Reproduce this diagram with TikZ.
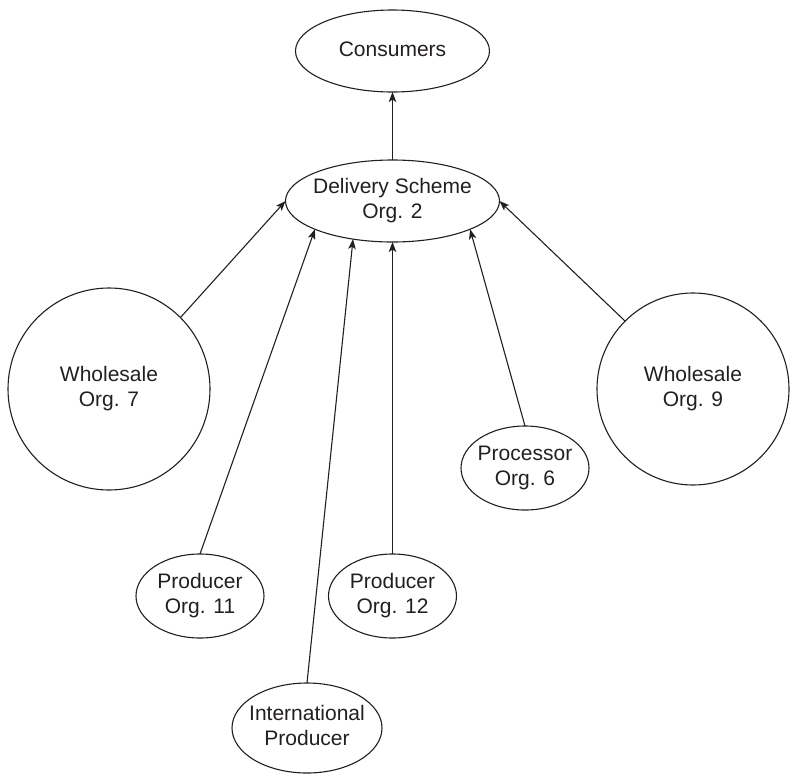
\documentclass[tikz,border=0pt]{standalone}
\usepackage{fontspec}
\setmainfont{Liberation Sans}
\usetikzlibrary{shapes.geometric,arrows.meta}

\definecolor{ink}{RGB}{35,31,32}

% centred multi-line label that does not widen its node
\newcommand{\orglabel}[1]{\makebox[0pt]{\begin{tabular}{@{}c@{}}#1\end{tabular}}}

\begin{document}
\begin{tikzpicture}[
  x=1pt, y=-1pt,
  every node/.style={font=\fontsize{21}{25}\selectfont, text=ink},
  org/.style={draw=ink, line width=1.1pt, ellipse, inner sep=0pt, outer sep=0pt},
  bigorg/.style={draw=ink, line width=1.1pt, circle, inner sep=0pt, outer sep=0pt},
  flow/.style={draw=ink, line width=1.1pt, -{Stealth[length=10pt, width=7.5pt, inset=2.5pt]}}
]
\useasboundingbox (0,0) rectangle (790,774);

% organisations
\node[org, minimum width=194pt, minimum height=82pt] (cons) at (392.5,51) {\orglabel{Consumers}};
\node[org, minimum width=214pt, minimum height=82pt] (del)  at (392.5,201) {\orglabel{Delivery Scheme\\Org. 2}};
\node[bigorg, minimum size=202pt] (w7) at (109,389) {\orglabel{Wholesale\\Org. 7}};
\node[bigorg, minimum size=192pt] (w9) at (693,389) {\orglabel{Wholesale\\Org. 9}};
\node[org, minimum width=128pt, minimum height=84pt] (proc) at (525,468) {\orglabel{Processor\\Org. 6}};
\node[org, minimum width=128pt, minimum height=84pt] (p11)  at (200,596) {\orglabel{Producer\\Org. 11}};
\node[org, minimum width=128pt, minimum height=84pt] (p12)  at (392.5,596) {\orglabel{Producer\\Org. 12}};
\node[org, minimum width=150pt, minimum height=90pt] (intl) at (307,728) {\orglabel{International\\Producer}};

% supply flows
\draw[flow] (del.north) -- (cons.south);
\draw[flow] (w7.45) -- (del.west);
\draw[flow] (w9.135) -- (del.east);
\draw[flow] (p11.north) -- (del.200);
\draw[flow] (intl.north) -- (del.224);
\draw[flow] (p12.north) -- (del.south);
\draw[flow] (proc.north) -- (del.340);
\end{tikzpicture}
\end{document}
